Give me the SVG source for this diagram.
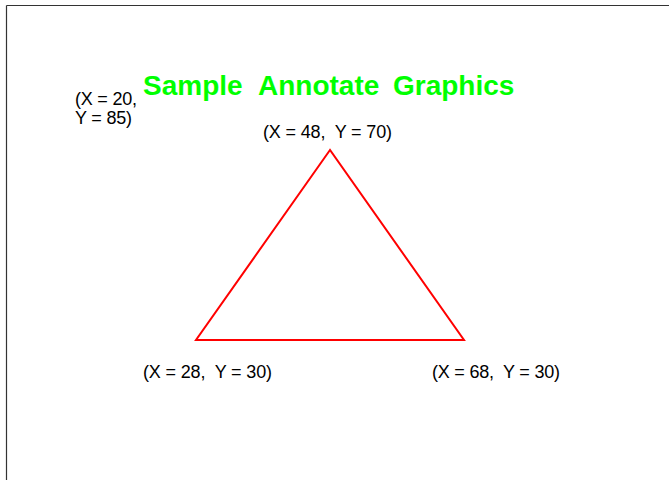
<svg xmlns="http://www.w3.org/2000/svg" width="669" height="480" viewBox="0 0 669 480">
<style>
.lbl{font-family:"Liberation Sans",Arial,sans-serif;font-size:18px;fill:#000;white-space:pre}
.title{font-family:"Liberation Sans",Arial,sans-serif;font-size:28px;font-weight:bold;fill:#00FF00}
</style>
<rect width="669" height="480" fill="#fff"/>
<g id="frame" stroke="#333" stroke-width="1.2" fill="none">
<line x1="6.5" y1="5.5" x2="669" y2="5.5"/>
<line x1="6.5" y1="5.5" x2="6.5" y2="480"/>
</g>
<g id="title">
<text class="title" y="95"><tspan x="143">Sample</tspan><tspan x="258">Annotate</tspan><tspan x="393">Graphics</tspan></text>
</g>
<g id="triangle">
<polygon points="330,150 196,340 464,340" fill="none" stroke="#FF0000" stroke-width="2"/>
</g>
<g id="labels">
<text class="lbl" x="75" y="105" textLength="62" lengthAdjust="spacing">(X = 20,</text>
<text class="lbl" x="75" y="124" textLength="57" lengthAdjust="spacing">Y = 85)</text>
<text class="lbl" x="263" y="138" textLength="129" lengthAdjust="spacing">(X = 48,  Y = 70)</text>
<text class="lbl" x="143" y="378" textLength="129" lengthAdjust="spacing">(X = 28,  Y = 30)</text>
<text class="lbl" x="432" y="378" textLength="128" lengthAdjust="spacing">(X = 68,  Y = 30)</text>
</g>
</svg>
